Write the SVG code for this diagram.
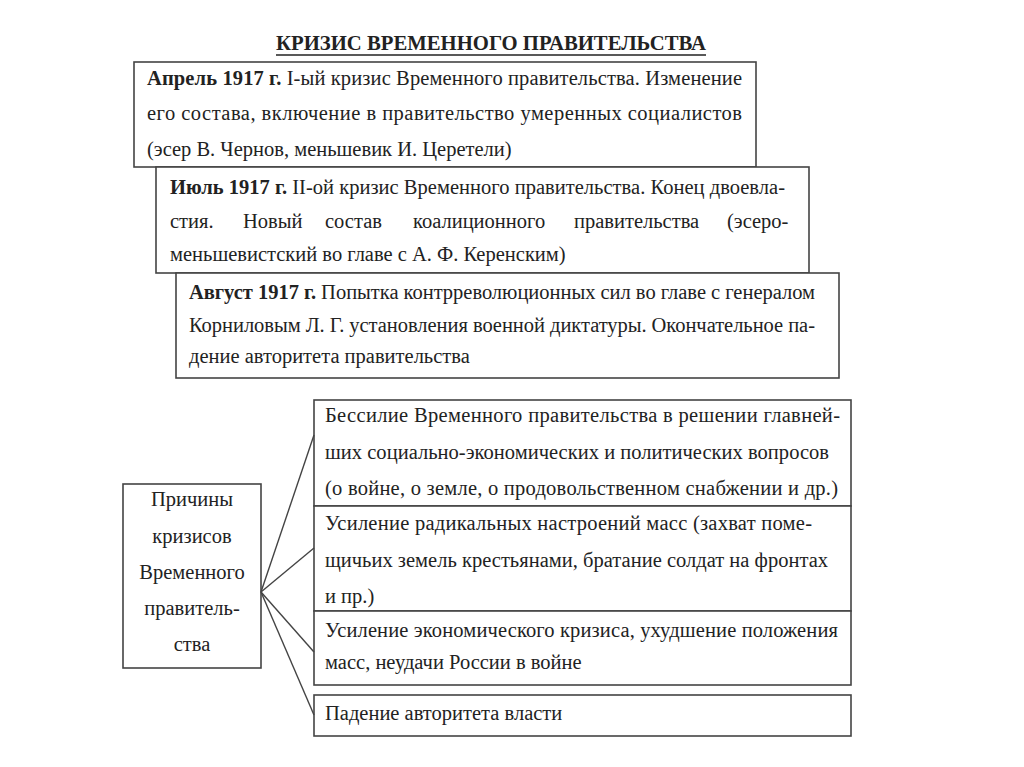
<svg xmlns="http://www.w3.org/2000/svg" width="1024" height="767" viewBox="0 0 1024 767">
<style>
.box{fill:#fff;stroke:#444;stroke-width:1.6}
.t{font-family:"Liberation Serif","Times New Roman",serif;font-size:20.5px;fill:#222}
.b{font-weight:bold}
.c{text-anchor:middle}
.ln{stroke:#444;stroke-width:1.4;fill:none}
</style>
<rect width="1024" height="767" fill="#fff"/>
<g id="title">
<text class="t b" x="276" y="50" textLength="430" lengthAdjust="spacingAndGlyphs">КРИЗИС ВРЕМЕННОГО ПРАВИТЕЛЬСТВА</text>
<line x1="276" y1="55" x2="706" y2="55" stroke="#222" stroke-width="1.5"/>
</g>
<g id="april">
<rect class="box" x="134" y="62" width="622" height="105"/>
<text class="t" x="147" y="85" textLength="595"><tspan class="b">Апрель 1917 г.</tspan> I-ый кризис Временного правительства. Изменение</text>
<text class="t" x="147" y="120" textLength="595">его состава, включение в  правительство умеренных социалистов</text>
<text class="t" x="147" y="156">(эсер В. Чернов, меньшевик И. Церетели)</text>
</g>
<g id="july">
<rect class="box" x="156" y="167" width="653" height="106"/>
<text class="t" x="170" y="194" textLength="615"><tspan class="b">Июль 1917 г.</tspan> II-ой кризис Временного правительства. Конец двоевла-</text>
<text class="t" y="228"><tspan x="170">стия.</tspan><tspan x="243">Новый</tspan><tspan x="325">состав</tspan><tspan x="413">коалиционного</tspan><tspan x="574">правительства</tspan><tspan x="727">(эсеро-</tspan></text>
<text class="t" x="170" y="261">меньшевистский во главе с А. Ф. Керенским)</text>
</g>
<g id="august">
<rect class="box" x="176" y="273" width="663" height="105"/>
<text class="t" x="189" y="299" textLength="626"><tspan class="b">Август 1917 г.</tspan> Попытка контрреволюционных сил во главе с генералом</text>
<text class="t" x="189" y="332" textLength="626">Корниловым Л. Г. установления военной диктатуры. Окончательное па-</text>
<text class="t" x="189" y="363">дение авторитета правительства</text>
</g>
<g id="causes">
<rect class="box" x="123" y="484" width="138" height="184"/>
<text class="t c" x="192" y="506">Причины</text>
<text class="t c" x="192" y="543">кризисов</text>
<text class="t c" x="192" y="579">Временного</text>
<text class="t c" x="192" y="615">правитель-</text>
<text class="t c" x="192" y="651">ства</text>
</g>
<g id="cause1">
<rect class="box" x="314" y="400" width="537" height="106"/>
<text class="t" x="325" y="422" textLength="515">Бессилие Временного правительства в решении главней-</text>
<text class="t" x="325" y="459" textLength="504">ших социально-экономических и политических вопросов</text>
<text class="t" x="325" y="495" textLength="513">(о войне, о земле, о продовольственном снабжении и др.)</text>
</g>
<g id="cause2">
<rect class="box" x="314" y="506" width="537" height="105"/>
<text class="t" x="325" y="530" textLength="487">Усиление радикальных настроений масс (захват поме-</text>
<text class="t" x="325" y="567" textLength="503">щичьих земель крестьянами, братание солдат на фронтах</text>
<text class="t" x="325" y="603">и пр.)</text>
</g>
<g id="cause3">
<rect class="box" x="314" y="611" width="537" height="74"/>
<text class="t" x="325" y="637" textLength="513">Усиление экономического кризиса, ухудшение положения</text>
<text class="t" x="325" y="669">масс, неудачи России в войне</text>
</g>
<g id="cause4">
<rect class="box" x="314" y="695" width="537" height="41"/>
<text class="t" x="325" y="720">Падение авторитета власти</text>
</g>
<g id="connectors">
<line class="ln" x1="261" y1="592" x2="314" y2="435"/>
<line class="ln" x1="261" y1="592" x2="314" y2="548"/>
<line class="ln" x1="261" y1="592" x2="314" y2="652"/>
<line class="ln" x1="261" y1="592" x2="314" y2="715"/>
</g>
</svg>
